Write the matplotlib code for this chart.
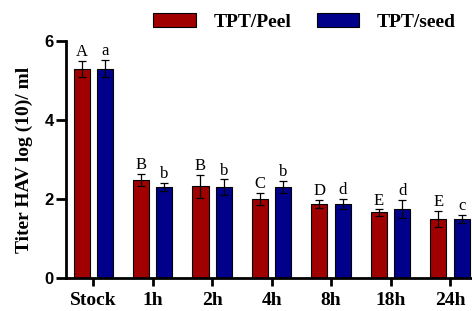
import numpy as np
import matplotlib.pyplot as plt
from matplotlib.patches import Patch

# data
groups = ["Stock", "1h", "2h", "4h", "8h", "18h", "24h"]
peel = [5.3, 2.48, 2.32, 2.0, 1.88, 1.66, 1.5]
peel_err = [0.2, 0.15, 0.3, 0.15, 0.1, 0.08, 0.2]
seed = [5.3, 2.3, 2.3, 2.3, 1.88, 1.75, 1.5]
seed_err = [0.22, 0.1, 0.2, 0.15, 0.12, 0.22, 0.1]
peel_letters = ["A", "B", "B", "C", "D", "E", "E"]
seed_letters = ["a", "b", "b", "b", "d", "d", "c"]

serif = "Liberation Serif"
sans = "Liberation Sans"

fig = plt.figure(figsize=(4.72, 3.11), dpi=100)
ax = fig.add_axes([0.14, 0.106, 0.86, 0.762])

x = np.arange(len(groups))
w = 0.27
off = 0.195
red = "#A00000"
blue = "#00008B"

ax.bar(x - off, peel, w, color=red, edgecolor="black", linewidth=0.8,
       yerr=peel_err, error_kw=dict(ecolor="black", elinewidth=0.9, capsize=3, capthick=0.9))
ax.bar(x + off, seed, w, color=blue, edgecolor="black", linewidth=0.8,
       yerr=seed_err, error_kw=dict(ecolor="black", elinewidth=0.9, capsize=3, capthick=0.9))

for i in range(len(groups)):
    ax.text(x[i] - off, peel[i] + peel_err[i] + 0.02, peel_letters[i], ha="center", va="bottom",
            family=serif, fontsize=12)
    ax.text(x[i] + off, seed[i] + seed_err[i] + 0.02, seed_letters[i], ha="center", va="bottom",
            family=serif, fontsize=12)

ax.set_xlim(-0.455, 6.37)
ax.set_ylim(0, 6)
ax.set_yticks([0, 2, 4, 6])
ax.set_xticks(x)
ax.set_xticklabels(groups, family=serif, fontweight="bold", fontsize=14)
for lab in ax.get_yticklabels():
    lab.set_family(sans)
    lab.set_fontweight("bold")
    lab.set_fontsize(12)

ax.spines["top"].set_visible(False)
ax.spines["right"].set_visible(False)
ax.spines["left"].set_linewidth(2)
ax.spines["bottom"].set_linewidth(2)
ax.tick_params(axis="y", length=7, width=2, pad=2)
ax.tick_params(axis="x", length=6, width=2, pad=4)

ax.set_ylabel("Titer HAV log (10)/ ml", family=serif, fontweight="bold", fontsize=14, labelpad=8)

handles = [Patch(facecolor=red, edgecolor="black", linewidth=0.8),
           Patch(facecolor=blue, edgecolor="black", linewidth=0.8)]
fig.legend(handles, ["TPT/Peel", "TPT/seed"], loc="center", bbox_to_anchor=(0.645, 0.93),
           ncol=2, frameon=False, prop=dict(family=serif, weight="bold", size=14),
           handlelength=2.2, handleheight=0.75, columnspacing=1.3, handletextpad=0.9)

fig.savefig("out.png", dpi=100)
